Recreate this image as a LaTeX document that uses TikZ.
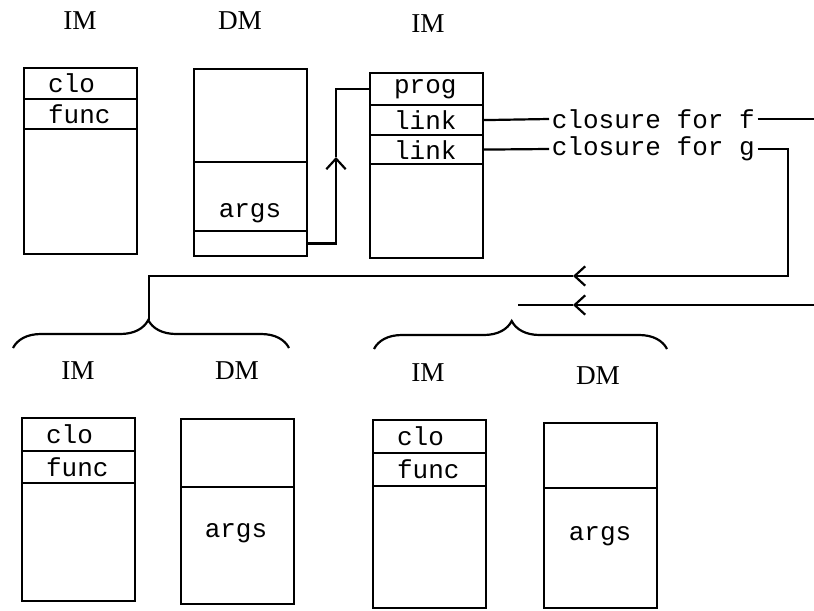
\documentclass[tikz,border=0pt]{standalone}
\usepackage{fontspec}
\setmonofont{Liberation Mono}
\newfontfamily\labelfont{Liberation Serif}
\usetikzlibrary{arrows.meta, positioning, decorations.pathreplacing}

\begin{document}
\begin{tikzpicture}[
  x=0.02cm, y=-0.02cm,
  line width=1.25pt,
  membox/.style={draw, rectangle, anchor=north west, inner sep=0pt, minimum width=2.26cm},
  cell/.style={draw, rectangle, anchor=north west, inner sep=0pt, minimum width=2.26cm,
               text width=1.3cm, align=left, font=\ttfamily\fontsize{14.8}{16}\selectfont},
  word/.style={font=\ttfamily\fontsize{14.8}{16}\selectfont, inner sep=1pt},
  memlbl/.style={font=\labelfont\fontsize{15.5}{17}\selectfont},
  arr/.style={-{Straight Barb[length=6pt, width=11pt]}},
  brc/.style={decorate, decoration={brace, amplitude=0.56cm}}
]
\useasboundingbox (0,0) rectangle (814,611);

% caller frame
\node[memlbl] (imA) at (80,21) {IM};
\node[memlbl] (dmA) at (240,21) {DM};
\node[membox, minimum height=3.72cm] (boxA) at (23,67) {};
\node[cell, minimum height=0.62cm] (cloA) at (23,67) {clo};
\node[cell, minimum height=0.6cm] (funcA) at (23,98) {func};
\node[membox, minimum height=3.74cm] (boxDA) at (193,68) {};
\node[membox, minimum height=1.38cm] (dargs) at (193,161) {};
\node[word] (dargstxt) at (250,213) {args};
\node[membox, minimum height=0.5cm] (dptr) at (193,230) {};

% program block
\node[memlbl] (imP) at (428,24) {IM};
\node[membox, minimum height=3.7cm] (boxP) at (369,72) {};
\node[cell, minimum height=0.64cm] (prog) at (369,72) {prog};
\node[cell, minimum height=0.6cm] (linkf) at (369,104) {link};
\node[cell, minimum height=0.58cm] (linkg) at (369,134) {link};

\node[word, anchor=west] (closf) at (549,119) {closure for f};
\node[word, anchor=west] (closg) at (549,149) {closure for g};

% callee frames
\node[memlbl] (imB) at (78,371) {IM};
\node[memlbl] (dmB) at (237,371) {DM};
\node[membox, minimum height=3.66cm] (boxB) at (21,417) {};
\node[cell, minimum height=0.66cm] (cloB) at (21,417) {clo};
\node[cell, minimum height=0.64cm] (funcB) at (21,450) {func};
\node[membox, minimum height=3.7cm] (boxDB) at (180,418) {};
\node[membox, minimum height=1.36cm] (topDB) at (180,418) {};
\node[word] (argsB) at (236,533) {args};

\node[memlbl] (imC) at (428,373) {IM};
\node[memlbl] (dmC) at (598,376) {DM};
\node[membox, minimum height=3.76cm] (boxC) at (372,419) {};
\node[cell, minimum height=0.66cm] (cloC) at (372,419) {clo};
\node[cell, minimum height=0.66cm] (funcC) at (372,452) {func};
\node[membox, minimum height=3.7cm] (boxDC) at (543,422) {};
\node[membox, minimum height=1.3cm] (topDC) at (543,422) {};
\node[word] (argsC) at (600,536) {args};

% braces
\draw[brc, decoration={aspect=0.49}] (13,348) -- (289,348);
\draw[brc, decoration={aspect=0.47}] (374,349) -- (667,349);

\coordinate (ptrmid) at (336,157);
\coordinate (fout) at (814,119);
\coordinate (gdown) at (788,276);
\coordinate (gmid) at (573,276);
\coordinate (gleft) at (149,276);
\coordinate (tipA) at (149,320);
\coordinate (fin) at (814,305);
\coordinate (fmid) at (573,305);
\coordinate (fend) at (518,305);

\draw[arr] (dptr.east) -| (ptrmid);
\draw (ptrmid) |- (prog.west);
\draw (linkf.east) -- (closf.west);
\draw (closf.east) -- (fout);
\draw (linkg.east) -- (closg.west);
\draw[arr] (closg.east) -| (gdown) -- (gmid);
\draw (gmid) -- (gleft) -- (tipA);
\draw[arr] (fin) -- (fmid);
\draw (fmid) -- (fend);

\end{tikzpicture}
\end{document}
